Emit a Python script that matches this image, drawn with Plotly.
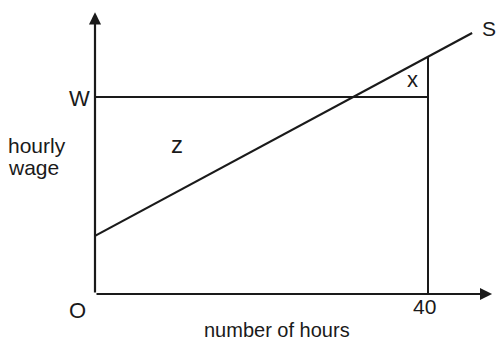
import plotly.graph_objects as go

# Labour supply diagram: hourly wage against number of hours
hours_cap = 40            # hours worked at the fixed wage
wage_W = 10.0             # fixed hourly wage W
supply_hours = [0, 45.3]  # supply curve S, hours
supply_wage = [2.95, 13.25]  # supply curve S, wage
axis_x_end = 47.7
axis_y_end = 14.3

def supply_at(h):
    slope = (supply_wage[1] - supply_wage[0]) / (supply_hours[1] - supply_hours[0])
    return supply_wage[0] + slope * h

ink = "#1a1a1a"
font = "Liberation Sans, Arial, sans-serif"

fig = go.Figure()

# supply curve S
fig.add_trace(go.Scatter(x=supply_hours, y=supply_wage, mode="lines",
                         line=dict(color=ink, width=2.2), hoverinfo="skip"))
# wage line W up to 40 hours
fig.add_trace(go.Scatter(x=[0, hours_cap], y=[wage_W, wage_W], mode="lines",
                         line=dict(color=ink, width=2), hoverinfo="skip"))
# vertical at 40 hours up to the supply curve
fig.add_trace(go.Scatter(x=[hours_cap, hours_cap], y=[0, supply_at(hours_cap)], mode="lines",
                         line=dict(color=ink, width=2), hoverinfo="skip"))

# axes with arrowheads
for hx, hy in [(axis_x_end, 0), (0, axis_y_end)]:
    fig.add_annotation(x=hx, y=hy, ax=0, ay=0, xref="x", yref="y", axref="x", ayref="y",
                       showarrow=True, arrowhead=2, arrowsize=1.1, arrowwidth=2.2,
                       arrowcolor=ink, text="")

def label(text, x, y, size, xanchor="center", xref="x", yref="y"):
    fig.add_annotation(x=x, y=y, xref=xref, yref=yref, text=text, showarrow=False,
                       xanchor=xanchor, yanchor="middle",
                       font=dict(family=font, size=size, color=ink))

label("W", -1.9, wage_W - 0.1, 22)
label("O", -2.15, -0.85, 22)
label(str(hours_cap), hours_cap - 0.4, -0.65, 21)
label("S", 47.3, 13.5, 21)
label("x", 38.1, 10.9, 22)
label("z", 9.85, 7.6, 24)
# axis titles placed in paper units (pixel positions / figure size)
label("hourly", 6 / 497, 1 - 146 / 343, 21, xanchor="left", xref="paper", yref="paper")
label("wage", 6 / 497, 1 - 167 / 343, 21, xanchor="left", xref="paper", yref="paper")
label("number of hours", 277 / 497, 1 - 330 / 343, 20, xref="paper", yref="paper")

fig.update_layout(
    width=497, height=343,
    margin=dict(l=0, r=0, t=0, b=0),
    paper_bgcolor="white", plot_bgcolor="white",
    showlegend=False,
    xaxis=dict(range=[-95 / 8.325, 402 / 8.325], visible=False, fixedrange=True),
    yaxis=dict(range=[-49 / 19.7, 294 / 19.7], visible=False, fixedrange=True),
)

fig.write_html("out.html")
